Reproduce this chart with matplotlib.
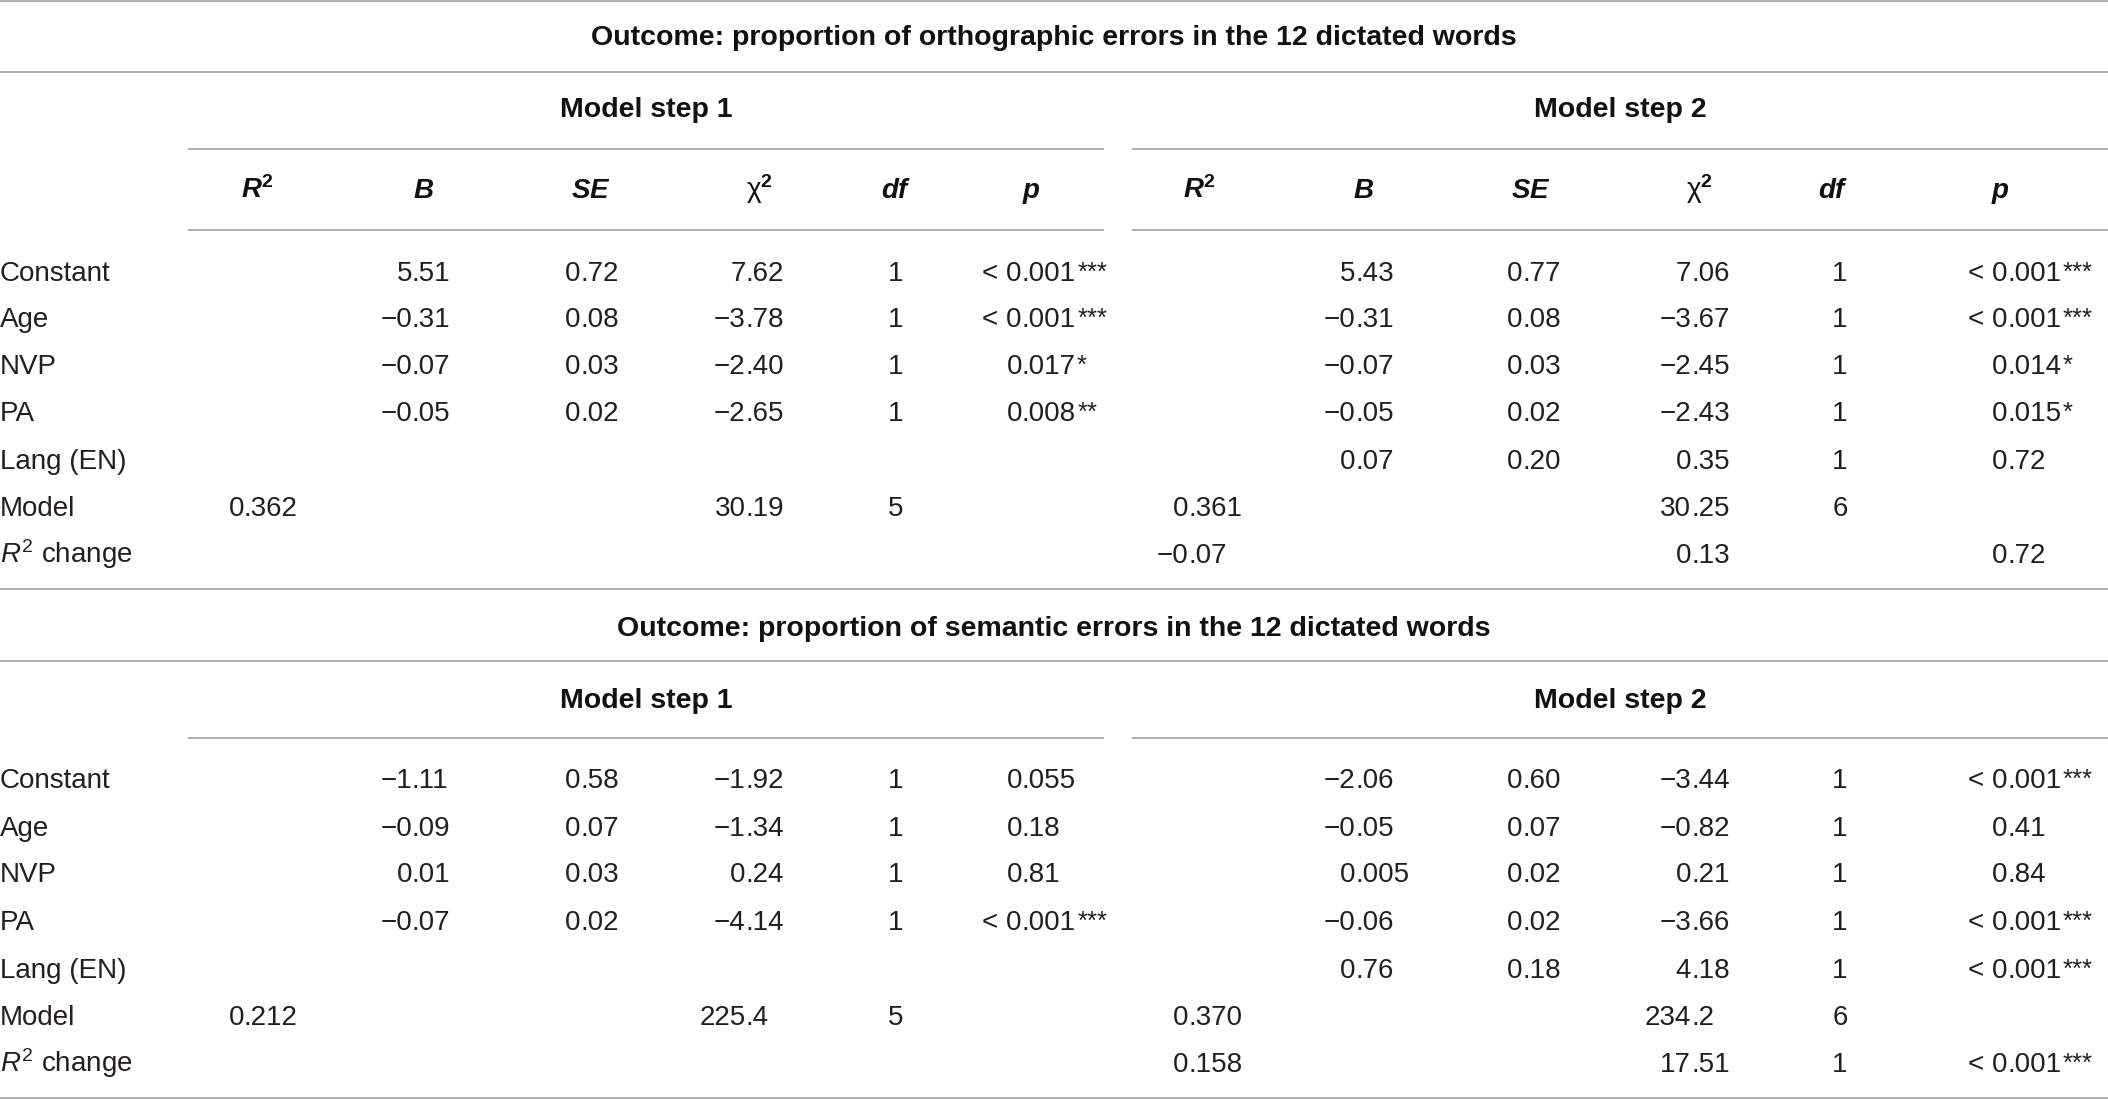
import matplotlib
matplotlib.use("Agg")
import matplotlib.pyplot as plt

W, H, DPI = 2108, 1099, 100

FAM = 'Liberation Sans'
plt.rcParams['font.family'] = [FAM, 'DejaVu Sans']
plt.rcParams['mathtext.fontset'] = 'custom'
plt.rcParams['mathtext.rm'] = FAM
plt.rcParams['mathtext.it'] = FAM + ':italic'
plt.rcParams['mathtext.bf'] = FAM + ':bold'
plt.rcParams['mathtext.bfit'] = FAM + ':italic:bold'
plt.rcParams['mathtext.sf'] = FAM

# ---------------- data ----------------
outcome_titles = ["Outcome: proportion of orthographic errors in the 12 dictated words",
                  "Outcome: proportion of semantic errors in the 12 dictated words"]
step_titles = ["Model step 1", "Model step 2"]
col_headers = [r'$\mathbfit{R}^{\mathbf{2}}$', r'$\mathbfit{B}$', r'$\mathbfit{SE}$',
               r'$\mathrm{\chi}^{\mathbf{2}}$', r'$\mathbfit{df}$', r'$\mathbfit{p}$']
row_labels = ["Constant", "Age", "NVP", "PA", "Lang (EN)", "Model", r'$\mathit{R}^{2}$ change']

ortho_s1_R2 = ["", "", "", "", "", "0.362", ""]
ortho_s1_B = ["5.51", "−0.31", "−0.07", "−0.05", "", "", ""]
ortho_s1_SE = ["0.72", "0.08", "0.03", "0.02", "", "", ""]
ortho_s1_chi2 = ["7.62", "−3.78", "−2.40", "−2.65", "", "30.19", ""]
ortho_s1_df = ["1", "1", "1", "1", "", "5", ""]
ortho_s1_p = ["< 0.001***", "< 0.001***", "0.017*", "0.008**", "", "", ""]

ortho_s2_R2 = ["", "", "", "", "", "0.361", "−0.07"]
ortho_s2_B = ["5.43", "−0.31", "−0.07", "−0.05", "0.07", "", ""]
ortho_s2_SE = ["0.77", "0.08", "0.03", "0.02", "0.20", "", ""]
ortho_s2_chi2 = ["7.06", "−3.67", "−2.45", "−2.43", "0.35", "30.25", "0.13"]
ortho_s2_df = ["1", "1", "1", "1", "1", "6", ""]
ortho_s2_p = ["< 0.001***", "< 0.001***", "0.014*", "0.015*", "0.72", "", "0.72"]

sem_s1_R2 = ["", "", "", "", "", "0.212", ""]
sem_s1_B = ["−1.11", "−0.09", "0.01", "−0.07", "", "", ""]
sem_s1_SE = ["0.58", "0.07", "0.03", "0.02", "", "", ""]
sem_s1_chi2 = ["−1.92", "−1.34", "0.24", "−4.14", "", "225.4", ""]
sem_s1_df = ["1", "1", "1", "1", "", "5", ""]
sem_s1_p = ["0.055", "0.18", "0.81", "< 0.001***", "", "", ""]

sem_s2_R2 = ["", "", "", "", "", "0.370", "0.158"]
sem_s2_B = ["−2.06", "−0.05", "0.005", "−0.06", "0.76", "", ""]
sem_s2_SE = ["0.60", "0.07", "0.02", "0.02", "0.18", "", ""]
sem_s2_chi2 = ["−3.44", "−0.82", "0.21", "−3.66", "4.18", "234.2", "17.51"]
sem_s2_df = ["1", "1", "1", "1", "1", "6", "1"]
sem_s2_p = ["< 0.001***", "0.41", "0.84", "< 0.001***", "< 0.001***", "", "< 0.001***"]

tables = [
    [[ortho_s1_R2, ortho_s1_B, ortho_s1_SE, ortho_s1_chi2, ortho_s1_df, ortho_s1_p],
     [ortho_s2_R2, ortho_s2_B, ortho_s2_SE, ortho_s2_chi2, ortho_s2_df, ortho_s2_p]],
    [[sem_s1_R2, sem_s1_B, sem_s1_SE, sem_s1_chi2, sem_s1_df, sem_s1_p],
     [sem_s2_R2, sem_s2_B, sem_s2_SE, sem_s2_chi2, sem_s2_df, sem_s2_p]],
]

# ---------------- layout ----------------
FS = 20
FS_B = 20.5
STAR_FS = 18.5
TXT = '#231f20'
HDR = '#111111'
LINE = '#9a9a9a'
LW = 1.1

col_dot = [[244, 412, 580.5, 745.5, 896, 1022],
           [1188.5, 1355.5, 1522.5, 1691, 1840, 2007.5]]
hdr_x = [[257, 424, 591, 759, 896, 1031],
         [1199, 1364, 1531, 1699, 1833, 2000]]
spans = [(188, 1104), (1132, W)]

fig = plt.figure(figsize=(W / DPI, H / DPI), dpi=DPI)
ax = fig.add_axes([0, 0, 1, 1])
ax.set_xlim(0, W)
ax.set_ylim(H, 0)
ax.axis('off')
renderer = fig.canvas.get_renderer()


def hline(y, x0=0, x1=W):
    ax.plot([x0, x1], [y, y], color=LINE, lw=LW, solid_capstyle='butt')


def num(xd, y, s, center=False):
    if not s:
        return
    core = s.rstrip('*')
    nstar = len(s) - len(core)
    if center:
        ax.text(xd, y, core, ha='center', va='baseline', fontsize=FS, color=TXT)
        return
    i = core.index('.') if '.' in core else len(core)
    left, right = core[:i], core[i:]
    if left:
        ax.text(xd, y, left, ha='right', va='baseline', fontsize=FS, color=TXT)
    xe = xd
    if right:
        t = ax.text(xd, y, right, ha='left', va='baseline', fontsize=FS, color=TXT)
        xe += t.get_window_extent(renderer).width
    if nstar:
        ax.text(xe + 1, y - 1.5, '*' * nstar, ha='left', va='baseline',
                fontsize=STAR_FS, color=TXT)


# table vertical layouts
layouts = [
    dict(top=1.2, title=45, line1=72, step=117, pline=[149, 230], header=198,
         rows=[281, 327, 374, 421, 469, 516, 563], bottom=589),
    dict(top=None, title=636, line1=661, step=708, pline=[738], header=None,
         rows=[788, 836, 882, 930, 978, 1025, 1072], bottom=1097.5),
]

for ti, L in enumerate(layouts):
    if L['top'] is not None:
        hline(L['top'])
    ax.text(W / 2, L['title'], outcome_titles[ti], ha='center', va='baseline',
            fontsize=FS_B, fontweight='bold', color=HDR)
    hline(L['line1'])
    for si in range(2):
        x0, x1 = spans[si]
        ax.text((x0 + x1) / 2, L['step'], step_titles[si], ha='center', va='baseline',
                fontsize=FS_B, fontweight='bold', color=HDR)
        for py in L['pline']:
            hline(py, x0, x1)
        if L['header'] is not None:
            for ci, h in enumerate(col_headers):
                ax.text(hdr_x[si][ci], L['header'], h, ha='center', va='baseline',
                        fontsize=FS, color=HDR)
    for ri, lab in enumerate(row_labels):
        ax.text(0, L['rows'][ri], lab, ha='left', va='baseline', fontsize=FS, color=TXT)
    for si in range(2):
        cols = tables[ti][si]
        for ci, col in enumerate(cols):
            for ri, v in enumerate(col):
                num(col_dot[si][ci], L['rows'][ri], v, center=(ci == 4))
    hline(L['bottom'])

fig.savefig('out.png', dpi=DPI, facecolor='white')
